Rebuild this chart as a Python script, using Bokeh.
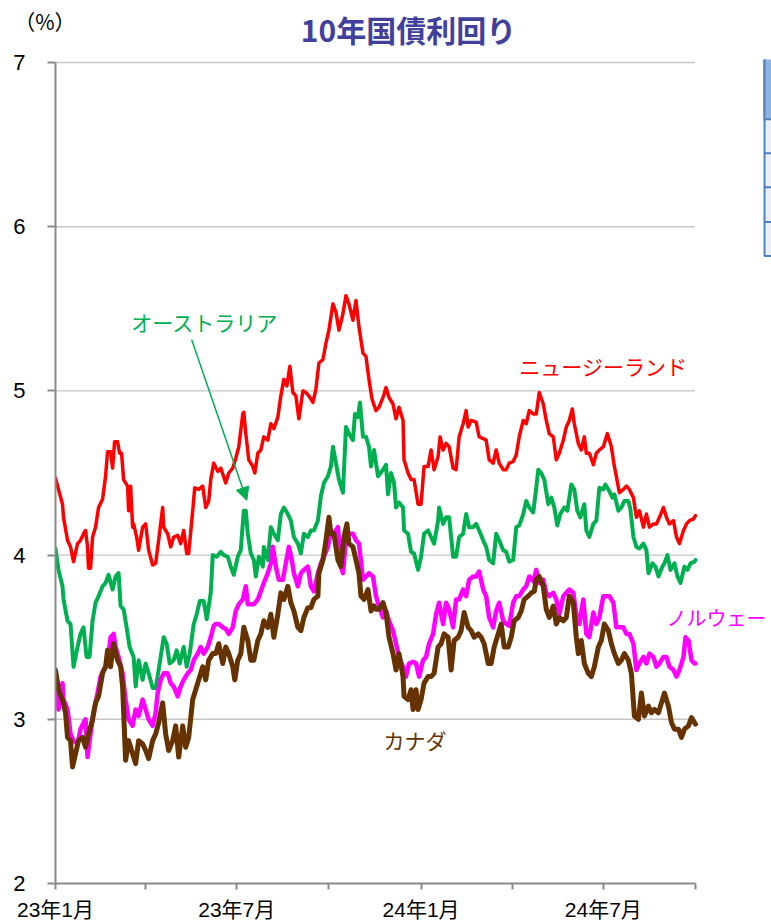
import pandas as pd
from bokeh.plotting import figure
from bokeh.layouts import column
from bokeh.models import Range1d, FixedTicker, Label, Arrow, NormalHead
from bokeh.embed import file_html
from bokeh.resources import INLINE

# ---------------- data (days since 2023-01-01, yield %) ----------------
START = "2023-01-01"
END = "2024-10-01"

tick_dates = ["2023-01-01", "2023-04-01", "2023-07-01", "2023-10-01",
              "2024-01-01", "2024-04-01", "2024-07-01", "2024-10-01"]
tick_labels = ["23年1月", "", "23年7月", "", "24年1月", "", "24年7月", ""]
y_ticks = [2, 3, 4, 5, 6, 7]

nz_pts = [(0, 4.47), (3, 4.40), (7, 4.31), (8, 4.23), (12, 4.09), (15, 4.05), (18, 3.96), (22, 4.07),
          (25, 4.09), (28, 4.13), (30, 4.15), (32, 4.05), (33, 3.92), (35, 3.92), (37, 4.11), (40, 4.17),
          (43, 4.29), (47, 4.34), (50, 4.48), (52, 4.63), (55, 4.63), (57, 4.53), (59, 4.69), (62, 4.69),
          (64, 4.62), (66, 4.62), (68, 4.46), (72, 4.42), (73, 4.27), (75, 4.42), (77, 4.17), (78, 4.19),
          (81, 4.11), (83, 4.03), (87, 4.17), (90, 4.19), (93, 4.03), (97, 3.94), (100, 3.95), (103, 4.09),
          (107, 4.29), (108, 4.17), (112, 4.13), (115, 4.05), (118, 4.11), (122, 4.12), (125, 4.07),
          (128, 4.15), (131, 4.01), (133, 4.01), (137, 4.27), (139, 4.41), (143, 4.40), (147, 4.42),
          (150, 4.29), (153, 4.33), (155, 4.46), (158, 4.56), (162, 4.51), (165, 4.53), (170, 4.44),
          (173, 4.50), (177, 4.53), (180, 4.59), (183, 4.66), (187, 4.86), (188, 4.87), (190, 4.74),
          (193, 4.58), (197, 4.54), (199, 4.50), (202, 4.62), (205, 4.64), (208, 4.72), (212, 4.70),
          (215, 4.80), (218, 4.77), (222, 4.84), (225, 4.97), (228, 5.07), (231, 5.03), (234, 5.15),
          (237, 4.99), (240, 4.97), (243, 4.83), (247, 5.00), (250, 4.99), (253, 4.97), (257, 4.93),
          (260, 5.01), (263, 5.17), (267, 5.19), (270, 5.29), (273, 5.37), (277, 5.53), (280, 5.48),
          (283, 5.37), (287, 5.47), (290, 5.58), (293, 5.53), (297, 5.43), (300, 5.55), (303, 5.39),
          (307, 5.23), (310, 5.21), (313, 5.07), (316, 4.95), (320, 4.88), (323, 4.90), (327, 4.96),
          (330, 5.02), (333, 4.96), (337, 4.92), (340, 4.83), (343, 4.90), (347, 4.82), (348, 4.58),
          (352, 4.50), (355, 4.46), (358, 4.46), (362, 4.31), (365, 4.31), (368, 4.54), (372, 4.54),
          (375, 4.64), (378, 4.52), (382, 4.60), (384, 4.72), (387, 4.64), (390, 4.68), (393, 4.66),
          (397, 4.53), (400, 4.52), (403, 4.72), (407, 4.80), (410, 4.88), (412, 4.78), (415, 4.82),
          (420, 4.81), (423, 4.72), (427, 4.71), (430, 4.70), (433, 4.58), (437, 4.56), (440, 4.64),
          (443, 4.56), (447, 4.52), (450, 4.52), (453, 4.56), (457, 4.57), (460, 4.61), (463, 4.72),
          (467, 4.82), (470, 4.80), (473, 4.88), (477, 4.86), (480, 4.86), (483, 4.99), (487, 4.92),
          (490, 4.82), (493, 4.74), (497, 4.72), (500, 4.58), (503, 4.62), (507, 4.70), (510, 4.78),
          (513, 4.82), (516, 4.89), (518, 4.80), (522, 4.68), (525, 4.64), (528, 4.72), (530, 4.62),
          (533, 4.62), (537, 4.55), (540, 4.62), (543, 4.64), (547, 4.66), (551, 4.74), (555, 4.66),
          (558, 4.54), (560, 4.48), (563, 4.38), (567, 4.40), (570, 4.42), (573, 4.40), (577, 4.35),
          (580, 4.23), (583, 4.27), (587, 4.17), (590, 4.25), (593, 4.17), (597, 4.19), (600, 4.19),
          (603, 4.23), (607, 4.29), (610, 4.23), (613, 4.19), (617, 4.21), (620, 4.11), (623, 4.07),
          (627, 4.15), (630, 4.19), (633, 4.21), (637, 4.22), (639, 4.24)]

au_pts = [(0, 4.04), (3, 3.91), (7, 3.81), (8, 3.73), (12, 3.60), (15, 3.58), (18, 3.32), (22, 3.44),
          (25, 3.52), (28, 3.56), (31, 3.38), (34, 3.38), (37, 3.60), (40, 3.71), (43, 3.75), (47, 3.81),
          (50, 3.83), (53, 3.88), (57, 3.79), (60, 3.87), (63, 3.89), (65, 3.69), (68, 3.67), (71, 3.56),
          (74, 3.44), (78, 3.38), (80, 3.20), (83, 3.36), (87, 3.24), (90, 3.34), (93, 3.28), (97, 3.19),
          (100, 3.19), (103, 3.30), (108, 3.50), (111, 3.46), (114, 3.34), (118, 3.36), (121, 3.42),
          (124, 3.34), (128, 3.44), (131, 3.32), (134, 3.40), (138, 3.58), (141, 3.64), (144, 3.72),
          (148, 3.72), (151, 3.61), (155, 3.77), (157, 4.00), (161, 3.99), (165, 4.02), (168, 4.00),
          (172, 3.99), (175, 3.93), (178, 3.88), (182, 3.99), (185, 4.03), (188, 4.27), (190, 4.27),
          (192, 4.13), (195, 4.01), (198, 3.97), (200, 3.87), (203, 3.99), (207, 3.93), (208, 4.05),
          (212, 3.97), (215, 4.17), (218, 4.13), (222, 4.09), (225, 4.25), (228, 4.29), (232, 4.25),
          (235, 4.21), (238, 4.11), (242, 4.07), (245, 4.01), (248, 4.13), (252, 4.11), (255, 4.15),
          (258, 4.15), (262, 4.21), (265, 4.36), (268, 4.44), (272, 4.48), (275, 4.54), (277, 4.66),
          (280, 4.56), (283, 4.46), (287, 4.38), (290, 4.78), (293, 4.74), (297, 4.70), (299, 4.86),
          (302, 4.84), (304, 4.93), (307, 4.72), (310, 4.72), (313, 4.66), (315, 4.54), (318, 4.64),
          (322, 4.48), (327, 4.52), (330, 4.55), (332, 4.37), (335, 4.50), (338, 4.44), (340, 4.29),
          (343, 4.32), (347, 4.29), (348, 4.15), (352, 4.13), (355, 4.02), (358, 4.01), (362, 3.91),
          (365, 3.99), (368, 4.13), (372, 4.15), (375, 4.11), (378, 4.07), (382, 4.21), (383, 4.29),
          (387, 4.19), (390, 4.23), (393, 4.23), (397, 3.99), (400, 3.99), (403, 4.11), (407, 4.13),
          (410, 4.25), (413, 4.17), (417, 4.17), (420, 4.19), (423, 4.15), (427, 4.09), (430, 4.05),
          (433, 3.97), (437, 3.95), (440, 4.13), (443, 4.09), (447, 4.03), (450, 4.02), (453, 3.96),
          (457, 3.97), (460, 4.17), (463, 4.18), (467, 4.25), (470, 4.33), (473, 4.29), (477, 4.26),
          (480, 4.41), (482, 4.52), (485, 4.50), (488, 4.46), (492, 4.31), (495, 4.35), (498, 4.29),
          (501, 4.18), (504, 4.25), (508, 4.29), (511, 4.27), (515, 4.43), (518, 4.40), (521, 4.27),
          (524, 4.23), (528, 4.31), (530, 4.15), (533, 4.11), (537, 4.19), (540, 4.21), (543, 4.41),
          (547, 4.40), (549, 4.43), (552, 4.40), (556, 4.35), (558, 4.37), (562, 4.27), (565, 4.29),
          (568, 4.33), (572, 4.33), (574, 4.28), (577, 4.11), (580, 4.05), (583, 4.04), (587, 4.07),
          (590, 4.03), (592, 3.89), (596, 3.95), (599, 3.93), (602, 3.87), (606, 3.93), (608, 3.95),
          (611, 4.00), (614, 3.91), (618, 3.95), (621, 3.87), (624, 3.83), (628, 3.93), (631, 3.91),
          (634, 3.95), (638, 3.96), (639, 3.97)]

no_pts = [(0, 3.23), (2, 3.12), (3, 3.06), (7, 3.22), (8, 3.12), (12, 3.06), (15, 2.91), (18, 2.87),
          (22, 2.85), (25, 2.94), (28, 2.98), (30, 3.00), (32, 2.77), (35, 2.91), (38, 3.04), (42, 3.16),
          (45, 3.26), (48, 3.30), (52, 3.34), (55, 3.50), (58, 3.52), (60, 3.44), (63, 3.38), (67, 3.28),
          (70, 3.12), (73, 3.00), (77, 2.96), (80, 3.06), (83, 3.02), (87, 3.12), (90, 3.06), (93, 3.00),
          (97, 2.96), (100, 3.04), (102, 3.16), (105, 3.24), (108, 3.28), (112, 3.28), (115, 3.22),
          (118, 3.20), (122, 3.14), (125, 3.20), (128, 3.24), (132, 3.28), (135, 3.30), (138, 3.36),
          (142, 3.40), (145, 3.44), (148, 3.40), (152, 3.44), (155, 3.50), (158, 3.57), (160, 3.58),
          (163, 3.58), (167, 3.56), (170, 3.55), (173, 3.52), (177, 3.56), (180, 3.66), (183, 3.70),
          (187, 3.73), (190, 3.81), (192, 3.70), (195, 3.70), (198, 3.70), (202, 3.73), (205, 3.78),
          (208, 3.83), (212, 3.89), (215, 3.95), (217, 4.05), (220, 3.93), (223, 3.85), (227, 3.85),
          (230, 3.95), (233, 4.05), (236, 3.97), (238, 3.89), (242, 3.81), (245, 3.89), (248, 3.91),
          (252, 3.93), (255, 3.81), (258, 3.78), (262, 3.89), (265, 3.95), (268, 3.99), (272, 4.05),
          (275, 4.15), (278, 4.13), (282, 4.17), (285, 3.93), (287, 3.89), (290, 4.09), (293, 4.13),
          (297, 4.13), (300, 4.09), (303, 4.07), (307, 3.85), (310, 3.87), (313, 3.89), (317, 3.87),
          (320, 3.75), (323, 3.69), (327, 3.62), (330, 3.66), (333, 3.60), (337, 3.54), (340, 3.46),
          (343, 3.38), (347, 3.32), (350, 3.26), (353, 3.34), (357, 3.35), (360, 3.34), (363, 3.26),
          (367, 3.36), (370, 3.38), (373, 3.46), (377, 3.52), (380, 3.64), (383, 3.71), (387, 3.58),
          (390, 3.71), (393, 3.67), (397, 3.56), (400, 3.73), (403, 3.73), (407, 3.79), (410, 3.75),
          (413, 3.85), (417, 3.87), (420, 3.87), (423, 3.90), (427, 3.79), (430, 3.75), (433, 3.62),
          (437, 3.56), (440, 3.66), (443, 3.71), (447, 3.60), (450, 3.58), (453, 3.57), (457, 3.71),
          (460, 3.75), (463, 3.75), (467, 3.79), (470, 3.81), (473, 3.87), (477, 3.84), (480, 3.91),
          (483, 3.83), (487, 3.85), (490, 3.77), (493, 3.75), (497, 3.77), (500, 3.73), (503, 3.64),
          (507, 3.75), (510, 3.77), (513, 3.79), (517, 3.77), (520, 3.64), (523, 3.58), (527, 3.73),
          (530, 3.52), (533, 3.50), (537, 3.65), (540, 3.58), (543, 3.62), (547, 3.75), (550, 3.75),
          (553, 3.75), (557, 3.71), (560, 3.56), (563, 3.56), (567, 3.56), (570, 3.52), (573, 3.52),
          (577, 3.46), (580, 3.30), (583, 3.34), (587, 3.38), (590, 3.34), (593, 3.40), (597, 3.38),
          (600, 3.32), (603, 3.34), (607, 3.38), (610, 3.38), (613, 3.32), (617, 3.30), (620, 3.26),
          (623, 3.30), (627, 3.38), (629, 3.50), (632, 3.48), (635, 3.36), (638, 3.34), (639, 3.34)]

ca_pts = [(0, 3.30), (3, 3.18), (7, 3.12), (10, 3.04), (12, 2.89), (15, 2.87), (17, 2.71), (20, 2.79),
          (23, 2.87), (27, 2.89), (30, 2.83), (33, 2.91), (37, 3.00), (40, 3.10), (43, 3.14), (47, 3.28),
          (50, 3.32), (52, 3.42), (55, 3.32), (58, 3.46), (62, 3.36), (65, 3.32), (67, 3.20), (70, 2.75),
          (73, 2.87), (77, 2.79), (80, 2.73), (83, 2.87), (87, 2.85), (90, 2.81), (93, 2.76), (97, 2.87),
          (100, 2.91), (103, 2.98), (107, 3.10), (110, 2.91), (113, 2.81), (117, 2.87), (120, 2.96),
          (123, 2.77), (127, 2.96), (130, 2.83), (133, 2.89), (137, 3.12), (140, 3.18), (143, 3.24),
          (147, 3.32), (150, 3.24), (153, 3.36), (157, 3.40), (160, 3.40), (163, 3.46), (167, 3.34),
          (170, 3.44), (173, 3.40), (177, 3.32), (179, 3.24), (182, 3.36), (185, 3.40), (188, 3.56),
          (192, 3.48), (195, 3.36), (198, 3.36), (202, 3.48), (205, 3.52), (208, 3.60), (212, 3.56),
          (215, 3.64), (218, 3.50), (222, 3.64), (225, 3.77), (228, 3.73), (232, 3.81), (235, 3.71),
          (238, 3.66), (242, 3.56), (245, 3.54), (248, 3.62), (252, 3.68), (255, 3.68), (258, 3.73),
          (262, 3.75), (263, 3.89), (267, 3.97), (270, 4.09), (273, 4.23), (275, 4.13), (278, 4.13),
          (282, 3.97), (285, 3.93), (288, 4.11), (291, 4.19), (293, 4.07), (297, 4.05), (300, 3.97),
          (303, 3.89), (305, 3.75), (308, 3.73), (312, 3.79), (315, 3.66), (318, 3.69), (320, 3.67),
          (323, 3.67), (327, 3.71), (330, 3.65), (333, 3.50), (337, 3.40), (340, 3.30), (343, 3.40),
          (347, 3.26), (348, 3.14), (352, 3.12), (355, 3.18), (357, 3.06), (360, 3.18), (362, 3.06),
          (365, 3.12), (368, 3.22), (372, 3.26), (375, 3.26), (378, 3.28), (382, 3.44), (385, 3.46),
          (388, 3.52), (392, 3.50), (395, 3.30), (398, 3.48), (402, 3.50), (405, 3.54), (408, 3.65),
          (412, 3.56), (415, 3.54), (418, 3.50), (422, 3.52), (425, 3.50), (428, 3.46), (432, 3.34),
          (435, 3.34), (438, 3.44), (442, 3.52), (445, 3.58), (448, 3.44), (452, 3.44), (455, 3.50),
          (458, 3.60), (462, 3.62), (465, 3.66), (468, 3.73), (472, 3.75), (475, 3.77), (478, 3.78),
          (480, 3.85), (483, 3.87), (487, 3.81), (490, 3.67), (493, 3.62), (497, 3.69), (500, 3.58),
          (503, 3.62), (507, 3.60), (510, 3.62), (513, 3.75), (517, 3.71), (520, 3.50), (522, 3.40),
          (525, 3.48), (528, 3.34), (532, 3.28), (535, 3.26), (538, 3.32), (542, 3.44), (545, 3.48),
          (548, 3.58), (552, 3.54), (555, 3.46), (558, 3.40), (562, 3.34), (565, 3.36), (568, 3.40),
          (572, 3.36), (575, 3.28), (578, 3.02), (582, 3.00), (585, 3.16), (588, 3.02), (592, 3.08),
          (595, 3.04), (598, 3.06), (602, 3.04), (605, 3.10), (608, 3.16), (612, 3.08), (615, 2.98),
          (618, 2.94), (622, 2.94), (625, 2.89), (628, 2.94), (632, 2.96), (635, 3.01), (638, 2.98),
          (639, 2.97)]

series = [
    ("オーストラリア", au_pts, "#00B050", 4.0),
    ("ニュージーランド", nz_pts, "#FF0000", 3.5),
    ("ノルウェー", no_pts, "#FF00FF", 4.5),
    ("カナダ", ca_pts, "#663300", 5.0),
]

# ---------------- helpers ----------------
t0 = pd.Timestamp(START)
t_end = pd.Timestamp(END)


def ms(day):
    return (t0 + pd.Timedelta(days=day)).timestamp() * 1000.0


def date_ms(d):
    return pd.Timestamp(d).timestamp() * 1000.0


LEFT = 55                  # left border shared by both stacked figures
SPAN_MS = date_ms(END) - date_ms(START)
PLOT_PX = 640.0            # width of the dated part of the frame
EXTRA_PX = 76.0            # frame continues to the right page edge
MS_PER_PX = SPAN_MS / PLOT_PX
Y_PER_PX = 5.0 / 823.0


def px_x(px):              # page pixel -> x data (decorations only)
    return date_ms(START) + (px - LEFT) * MS_PER_PX


def px_y(py):              # page pixel -> y data (decorations only)
    return 7 - (py - 62) * Y_PER_PX


GRID = "#8C8C8C"
AXIS = "#8A8A8A"
NUM_FONT = "Liberation Sans, Noto Sans CJK JP"
JP_FONT = "Noto Sans CJK JP"

# ---------------- header (title and unit) ----------------
HEAD_H = 50
h = figure(width=771, height=HEAD_H, x_range=Range1d(LEFT, 771), y_range=Range1d(HEAD_H, 0),
           output_backend="svg", toolbar_location=None,
           x_axis_location=None, y_axis_location="left",
           min_border_left=LEFT, min_border_right=0, min_border_top=0, min_border_bottom=0)
h.outline_line_color = None
h.xgrid.visible = False
h.ygrid.visible = False
# unit label "(%)" carried by the header's left axis
h.yaxis.ticker = FixedTicker(ticks=[20], minor_ticks=[])
h.yaxis.major_label_overrides = {20: "（%）"}
h.yaxis.axis_line_color = None
h.yaxis.major_tick_line_color = None
h.yaxis.minor_tick_line_color = None
h.yaxis.major_tick_out = 0
h.yaxis.major_tick_in = 0
h.yaxis.major_label_standoff = -20
h.yaxis.major_label_text_font = JP_FONT
h.yaxis.major_label_text_font_size = "21px"
h.yaxis.major_label_text_color = "black"

h.add_layout(Label(x=408, y=28, text="10年国債利回り", text_align="center",
                   text_baseline="middle", text_font=JP_FONT, text_font_size="30px",
                   text_font_style="bold", text_color="#41409A"))

# ---------------- main chart ----------------
TOP_PAD = 3  # px of frame above the 7% line so the top grid line is fully visible
p = figure(width=771, height=923 - HEAD_H, x_axis_type="datetime",
           x_range=Range1d(date_ms(START), date_ms(END) + EXTRA_PX * MS_PER_PX),
           y_range=Range1d(2, 7 + TOP_PAD * Y_PER_PX),
           output_backend="svg", toolbar_location=None,
           min_border_left=LEFT, min_border_right=0,
           min_border_top=62 - HEAD_H - TOP_PAD, min_border_bottom=38)
p.outline_line_color = None
p.background_fill_color = "white"
p.border_fill_color = "white"

# dotted horizontal grid lines, only across the dated span
gy = [v for v in y_ticks if v > y_ticks[0]]
p.segment(x0=[t0] * len(gy), y0=gy, x1=[t_end] * len(gy), y1=gy,
          line_color=GRID, line_width=1.4, line_dash="1 1")

for name, pts, color, lw in series:
    xs = [t0 + pd.Timedelta(days=d) for d, _ in pts]
    ys = [v for _, v in pts]
    p.line(xs, ys, line_color=color, line_width=lw, line_join="round", line_cap="round")

# axes
p.yaxis.ticker = FixedTicker(ticks=y_ticks, minor_ticks=[])
p.yaxis.bounds = (y_ticks[0], y_ticks[-1])
p.yaxis.axis_line_color = AXIS
p.yaxis.axis_line_width = 2
p.yaxis.major_tick_line_color = AXIS
p.yaxis.major_tick_line_width = 2
p.yaxis.major_tick_out = 8
p.yaxis.major_tick_in = 0
p.yaxis.minor_tick_line_color = None
p.yaxis.major_label_standoff = 22
p.yaxis.major_label_text_font = NUM_FONT
p.yaxis.major_label_text_font_size = "22px"
p.yaxis.major_label_text_color = "black"

xt = [date_ms(d) for d in tick_dates]
p.xaxis.ticker = FixedTicker(ticks=xt, minor_ticks=[])
p.xaxis.bounds = (date_ms(START), date_ms(END))
p.xaxis.major_label_overrides = {t: lab for t, lab in zip(xt, tick_labels)}
p.xaxis.axis_line_color = AXIS
p.xaxis.axis_line_width = 2
p.xaxis.major_tick_line_color = AXIS
p.xaxis.major_tick_line_width = 2
p.xaxis.major_tick_out = 6
p.xaxis.major_tick_in = 0
p.xaxis.minor_tick_line_color = None
p.xaxis.major_label_standoff = 8
p.xaxis.major_label_text_font = NUM_FONT
p.xaxis.major_label_text_font_size = "21px"
p.xaxis.major_label_text_color = "black"

p.xgrid.visible = False
p.ygrid.visible = False

# series annotations
p.add_layout(Label(x=ms(149), y=5.42, text="オーストラリア", text_align="center",
                   text_baseline="middle", text_font=JP_FONT, text_font_size="21px",
                   text_color="#00B050"))
p.add_layout(Label(x=ms(547), y=5.153, text="ニュージーランド", text_align="center",
                   text_baseline="middle", text_font=JP_FONT, text_font_size="21px",
                   text_color="#FF0000"))
p.add_layout(Label(x=ms(610), y=3.622, text="ノルウェー", text_align="left",
                   text_baseline="middle", text_font=JP_FONT, text_font_size="20px",
                   text_color="#FF00FF"))
p.add_layout(Label(x=ms(359), y=2.875, text="カナダ", text_align="center",
                   text_baseline="middle", text_font=JP_FONT, text_font_size="21px",
                   text_color="#663300"))

p.add_layout(Arrow(end=NormalHead(size=13, fill_color="#00B050", line_color="#00B050"),
                   x_start=ms(136), y_start=5.311, x_end=ms(191), y_end=4.333,
                   line_color="#00B050", line_width=1.5))

# edge of a neighbouring table that is cut off at the right of the picture
p.quad(left=px_x(764), right=px_x(775), top=px_y(51), bottom=px_y(256),
       fill_color="#E9EEF7", line_color="#4F81BD", line_width=2)
p.quad(left=px_x(764), right=px_x(775), top=px_y(51), bottom=px_y(119),
       fill_color="#8DB4E2", line_color="#4F81BD", line_width=2)
p.segment(x0=[px_x(764)] * 3, y0=[px_y(153), px_y(187), px_y(222)],
          x1=[px_x(775)] * 3, y1=[px_y(153), px_y(187), px_y(222)],
          line_color="#4F81BD", line_width=2)

open("out.html", "w").write(file_html(column(h, p), INLINE))
